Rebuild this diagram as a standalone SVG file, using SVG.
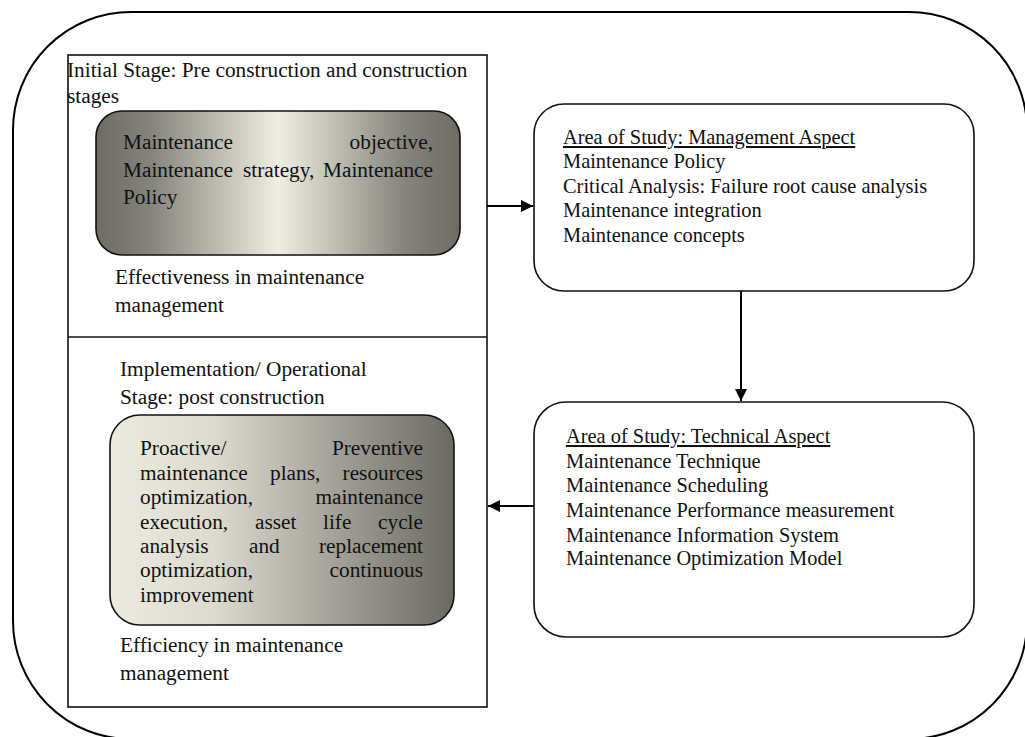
<svg xmlns="http://www.w3.org/2000/svg" width="1025" height="737" viewBox="0 0 1025 737">
<style>
  text { font-family: "Liberation Serif", "Times New Roman", serif; fill: #111; }
  .l { font-size: 21.3px; }
  .r { font-size: 20.4px; }
  .end { text-anchor: end; }
  .u { text-decoration: underline; }
  .box { fill: #fff; stroke: #111; stroke-width: 1.6; }
  .grad { stroke: #111; stroke-width: 1.6; }
  .conn { stroke: #000; stroke-width: 2; fill: none; }
</style>
<defs>
  <linearGradient id="g1" x1="0" y1="0" x2="1" y2="0">
    <stop offset="0" stop-color="#6c6c64"/>
    <stop offset="0.15" stop-color="#85847c"/>
    <stop offset="0.5" stop-color="#efeee2"/>
    <stop offset="0.85" stop-color="#85847c"/>
    <stop offset="1" stop-color="#6c6c64"/>
  </linearGradient>
  <linearGradient id="g2" x1="0" y1="0" x2="1" y2="0">
    <stop offset="0" stop-color="#ecebe0"/>
    <stop offset="0.3" stop-color="#dddbd0"/>
    <stop offset="1" stop-color="#6a6963"/>
  </linearGradient>
  <clipPath id="clipImp">
    <rect x="100" y="420" width="360" height="184"/>
  </clipPath>
  <marker id="ah" viewBox="0 0 12 12" refX="12" refY="6" markerWidth="12" markerHeight="12" markerUnits="userSpaceOnUse" orient="auto">
    <path d="M0,0 L12,6 L0,12 Z" fill="#000"/>
  </marker>
</defs>

<g id="frame">
  <rect x="13" y="12" width="1014" height="727" rx="118" ry="118" fill="none" stroke="#000" stroke-width="2"/>
</g>

<g id="stages">
  <rect class="box" x="68" y="55" width="419" height="652"/>
  <line x1="68" y1="337" x2="487" y2="337" stroke="#111" stroke-width="1.6"/>
</g>

<g id="initial-stage">
  <text class="l" x="67" y="77">Initial Stage: Pre construction and construction</text>
  <text class="l" x="67" y="103">stages</text>
  <rect class="grad" x="96" y="111" width="364" height="144" rx="26" ry="26" fill="url(#g1)"/>
  <text class="l" x="123" y="149">Maintenance</text>
  <text class="l end" x="433" y="149">objective,</text>
  <text class="l" x="123" y="177">Maintenance</text>
  <text class="l" x="243" y="177">strategy,</text>
  <text class="l end" x="433" y="177">Maintenance</text>
  <text class="l" x="123" y="204">Policy</text>
  <text class="l" x="115" y="284">Effectiveness in maintenance</text>
  <text class="l" x="115" y="312">management</text>
</g>

<g id="operational-stage">
  <text class="l" x="120" y="376">Implementation/ Operational</text>
  <text class="l" x="120" y="404">Stage: post construction</text>
  <rect class="grad" x="110" y="415" width="344" height="210" rx="30" ry="30" fill="url(#g2)"/>
  <g clip-path="url(#clipImp)">
    <text class="l" x="140" y="455">Proactive/</text>
    <text class="l end" x="423" y="455">Preventive</text>
    <text class="l" x="140" y="480">maintenance</text>
    <text class="l" x="270" y="480">plans,</text>
    <text class="l end" x="423" y="480">resources</text>
    <text class="l" x="140" y="504">optimization,</text>
    <text class="l end" x="423" y="504">maintenance</text>
    <text class="l" x="140" y="529">execution,</text>
    <text class="l" x="255" y="529">asset</text>
    <text class="l" x="323" y="529">life</text>
    <text class="l end" x="423" y="529">cycle</text>
    <text class="l" x="140" y="553">analysis</text>
    <text class="l" x="249" y="553">and</text>
    <text class="l end" x="423" y="553">replacement</text>
    <text class="l" x="140" y="577">optimization,</text>
    <text class="l end" x="423" y="577">continuous</text>
    <text class="l" x="140" y="602">improvement</text>
  </g>
  <text class="l" x="120" y="652">Efficiency in maintenance</text>
  <text class="l" x="120" y="680">management</text>
</g>

<g id="management-aspect">
  <rect class="box" x="534" y="104" width="440" height="187" rx="30" ry="30"/>
  <text class="r u" x="563" y="144">Area of Study: Management Aspect</text>
  <text class="r" x="563" y="168">Maintenance Policy</text>
  <text class="r" x="563" y="193">Critical Analysis: Failure root cause analysis</text>
  <text class="r" x="563" y="217">Maintenance integration</text>
  <text class="r" x="563" y="242">Maintenance concepts</text>
</g>

<g id="technical-aspect">
  <rect class="box" x="534" y="402" width="440" height="235" rx="32" ry="32"/>
  <text class="r u" x="566" y="443">Area of Study: Technical Aspect</text>
  <text class="r" x="566" y="468">Maintenance Technique</text>
  <text class="r" x="566" y="492">Maintenance Scheduling</text>
  <text class="r" x="566" y="517">Maintenance Performance measurement</text>
  <text class="r" x="566" y="542">Maintenance Information System</text>
  <text class="r" x="566" y="565">Maintenance Optimization Model</text>
</g>

<g id="connectors">
  <line class="conn" x1="487" y1="206" x2="533" y2="206" marker-end="url(#ah)"/>
  <line class="conn" x1="741" y1="291" x2="741" y2="401" marker-end="url(#ah)"/>
  <line class="conn" x1="534" y1="506" x2="488" y2="506" marker-end="url(#ah)"/>
</g>
</svg>
